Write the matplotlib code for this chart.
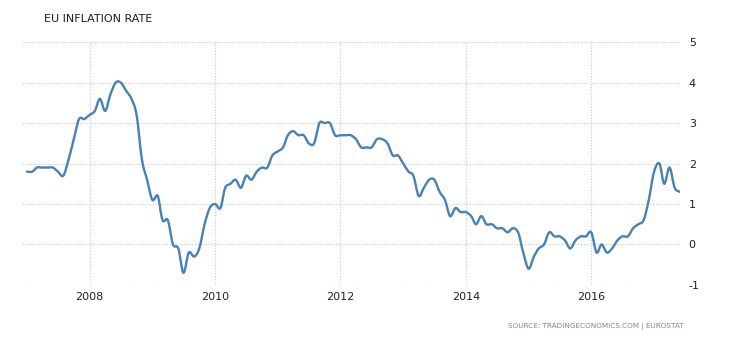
import numpy as np
import pandas as pd
import matplotlib
matplotlib.use("Agg")
import matplotlib.pyplot as plt
import matplotlib.dates as mdates
from matplotlib.path import Path
from matplotlib.patches import PathPatch

# monthly inflation rate, Jan 2007 - Jun 2017
rate_2007 = [1.8, 1.8, 1.9, 1.9, 1.9, 1.9, 1.8, 1.7, 2.1, 2.6, 3.1, 3.1]
rate_2008 = [3.2, 3.3, 3.6, 3.3, 3.7, 4.0, 4.0, 3.8, 3.6, 3.2, 2.1, 1.6]
rate_2009 = [1.1, 1.2, 0.6, 0.6, 0.0, -0.1, -0.7, -0.2, -0.3, -0.1, 0.5, 0.9]
rate_2010 = [1.0, 0.9, 1.4, 1.5, 1.6, 1.4, 1.7, 1.6, 1.8, 1.9, 1.9, 2.2]
rate_2011 = [2.3, 2.4, 2.7, 2.8, 2.7, 2.7, 2.5, 2.5, 3.0, 3.0, 3.0, 2.7]
rate_2012 = [2.7, 2.7, 2.7, 2.6, 2.4, 2.4, 2.4, 2.6, 2.6, 2.5, 2.2, 2.2]
rate_2013 = [2.0, 1.8, 1.7, 1.2, 1.4, 1.6, 1.6, 1.3, 1.1, 0.7, 0.9, 0.8]
rate_2014 = [0.8, 0.7, 0.5, 0.7, 0.5, 0.5, 0.4, 0.4, 0.3, 0.4, 0.3, -0.2]
rate_2015 = [-0.6, -0.3, -0.1, 0.0, 0.3, 0.2, 0.2, 0.1, -0.1, 0.1, 0.2, 0.2]
rate_2016 = [0.3, -0.2, 0.0, -0.2, -0.1, 0.1, 0.2, 0.2, 0.4, 0.5, 0.6, 1.1]
rate_2017 = [1.8, 2.0, 1.5, 1.9, 1.4, 1.3]

values = (rate_2007 + rate_2008 + rate_2009 + rate_2010 + rate_2011 + rate_2012
          + rate_2013 + rate_2014 + rate_2015 + rate_2016 + rate_2017)
dates = pd.date_range("2007-01-01", periods=len(values), freq="MS")

year_ticks = ["2008", "2010", "2012", "2014", "2016"]
y_ticks = [-1, 0, 1, 2, 3, 4, 5]

line_color = "#4682b4"
grid_color = "#c8c8c8"

fig = plt.figure(figsize=(7.3, 3.4), dpi=100)
ax = fig.add_axes([0.030, 0.162, 0.902, 0.714])

# smooth curve through the monthly points (Catmull-Rom as cubic Bezier)
x = mdates.date2num(dates.to_pydatetime())
y = np.array(values)
verts = [(x[0], y[0])]
codes = [Path.MOVETO]
for i in range(len(x) - 1):
    x0, y0 = (x[i - 1], y[i - 1]) if i > 0 else (x[i], y[i])
    x3, y3 = (x[i + 2], y[i + 2]) if i + 2 < len(x) else (x[i + 1], y[i + 1])
    c1 = (x[i] + (x[i + 1] - x0) / 6, y[i] + (y[i + 1] - y0) / 6)
    c2 = (x[i + 1] - (x3 - x[i]) / 6, y[i + 1] - (y3 - y[i]) / 6)
    verts += [c1, c2, (x[i + 1], y[i + 1])]
    codes += [Path.CURVE4] * 3
ax.add_patch(PathPatch(Path(verts, codes), facecolor="none", edgecolor=line_color,
                       lw=1.7, capstyle="round", joinstyle="round", zorder=3))

ax.set_xlim(mdates.datestr2num("2006-12-03"), mdates.datestr2num("2017-06-03"))
ax.set_ylim(-1, 5)

ax.set_xticks([mdates.datestr2num(t + "-01-01") for t in year_ticks])
ax.set_xticklabels(year_ticks)
ax.set_yticks(y_ticks)
ax.set_yticklabels([str(v) for v in y_ticks])
ax.yaxis.tick_right()

ax.grid(True, color=grid_color, linestyle=(0, (1, 1.5)), linewidth=0.8)
for s in ax.spines.values():
    s.set_visible(False)
ax.tick_params(length=0, labelsize=8, colors="#222222")
ax.tick_params(axis="y", pad=6)
ax.tick_params(axis="x", pad=5)

fig.text(0.060, 0.945, "EU INFLATION RATE", fontsize=8, color="#1a1a2e", va="center")
fig.text(0.937, 0.040, "SOURCE: TRADINGECONOMICS.COM | EUROSTAT", fontsize=5.2,
         color="#7a8899", ha="right", va="center")

fig.savefig("out.png", dpi=100)
